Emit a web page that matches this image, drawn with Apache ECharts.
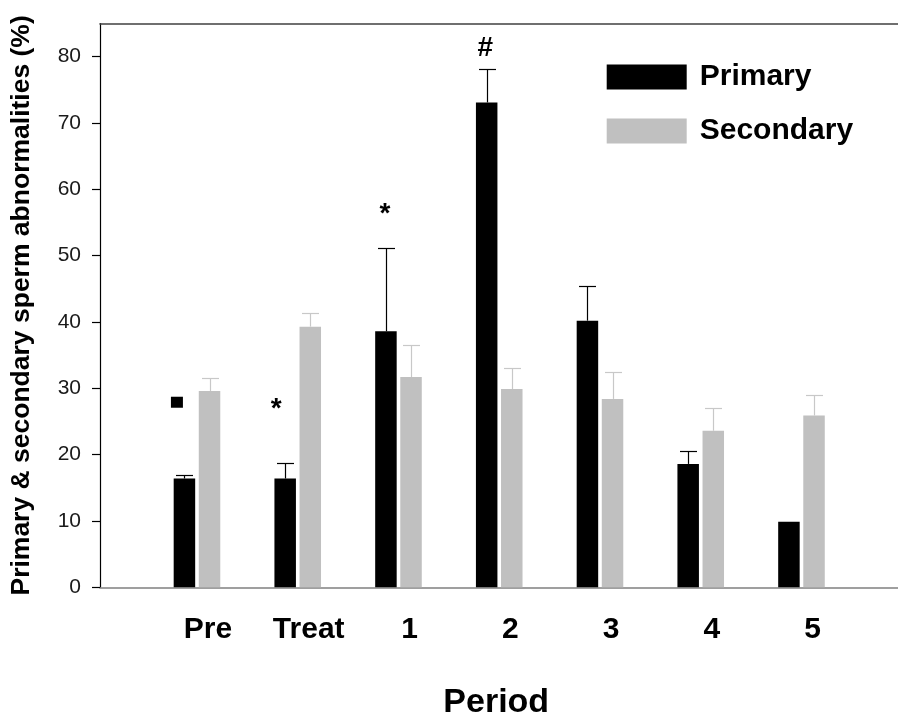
<!DOCTYPE html>
<html>
<head>
<meta charset="utf-8">
<script src="https://cdn.jsdelivr.net/npm/echarts@6/dist/echarts.min.js"></script>
<style>
html,body{margin:0;padding:0;background:#fff;}
#chart{width:898px;height:713px;}
</style>
</head>
<body>
<div id="chart"></div>
<script>
// ---- data ----
const categories = ['Pre', 'Treat', '1', '2', '3', '4', '5'];
const primary = [16.4, 16.4, 38.6, 73.1, 40.2, 18.6, 9.9];
const primaryErr = [0.5, 2.4, 12.5, 5.1, 5.3, 2.0, 0];
const secondary = [29.6, 39.3, 31.7, 29.9, 28.4, 23.6, 25.9];
const secondaryErr = [1.9, 2.0, 4.8, 3.1, 4.0, 3.4, 3.1];
const yTicks = [0, 10, 20, 30, 40, 50, 60, 70, 80];
const annotCats = ['Pre', 'Treat', '1', '2'];
const annotY = [27.9, 26.8, 56.2, 81.3];
const annotText = ['square', '*', '*', '#'];

// ---- layout constants ----
const FONT = 'Liberation Sans, Arial, sans-serif';
const BAR_W = 21.5;
const BAR_GAP = 3.6;
const PRIMARY_SHIFT = -(BAR_W + BAR_GAP) / 2;
const SECONDARY_SHIFT = (BAR_W + BAR_GAP) / 2;
const annotDx = [-7.5, -9, -1, -1.5];
const Y_MAX = 85;

const chart = echarts.init(document.getElementById('chart'), null, {renderer: 'canvas'});

function errRender(shift, color) {
  return function (params, api) {
    const idx = api.value(0), v = api.value(1), e = api.value(2);
    if (!e) return null;
    const base = api.coord([idx, v]);
    const top = api.coord([idx, v + e]);
    const x = Math.round(base[0] + shift) + 0.5;
    const ty = Math.round(top[1]) + 0.5;
    return {
      type: 'group',
      children: [
        {type: 'line', shape: {x1: x, y1: base[1], x2: x, y2: ty}, style: {stroke: color, lineWidth: 1.2}},
        {type: 'line', shape: {x1: x - 8.5, y1: ty, x2: x + 8.5, y2: ty}, style: {stroke: color, lineWidth: 1.2}}
      ]
    };
  };
}

const annotData = annotCats.map((c, i) => [categories.indexOf(c), annotY[i], i]);

const option = {
  backgroundColor: '#fff',
  animation: false,
  grid: [
    {left: 100, right: 0, top: 23.5, bottom: 125.7, outerBoundsMode: 'none', containLabel: false},
    {left: 146.6, width: 705.25, top: 23.5, bottom: 125.7, outerBoundsMode: 'none', containLabel: false}
  ],
  legend: {
    data: ['Primary', 'Secondary'],
    orient: 'vertical',
    left: 606.7,
    top: 62,
    padding: 0,
    itemWidth: 80,
    itemHeight: 25,
    itemGap: 24,
    icon: 'rect',
    textStyle: {fontFamily: FONT, fontSize: 30, fontWeight: 'bold', color: '#000', lineHeight: 30, padding: [0, 0, 0, 8]}
  },
  xAxis: [
    {
      gridIndex: 0, type: 'category', data: [''], position: 'bottom',
      axisLine: {show: true, lineStyle: {color: '#808080', width: 1.5}},
      axisTick: {show: false}, axisLabel: {show: false}, splitLine: {show: false},
      offset: 2.7
    },
    {
      gridIndex: 0, type: 'value', position: 'top', min: 0, max: 1,
      axisLine: {show: true, lineStyle: {color: '#404040', width: 1.5}},
      axisTick: {show: false}, axisLabel: {show: false}, splitLine: {show: false}
    },
    {
      gridIndex: 1, type: 'category', data: categories,
      axisLine: {show: false}, axisTick: {show: false}, splitLine: {show: false},
      axisLabel: {
        fontFamily: FONT, fontSize: 30, fontWeight: 'bold', color: '#000',
        margin: 27, padding: [0, 0, 0, 22]
      },
      name: 'Period', nameLocation: 'middle', nameGap: 98,
      nameTextStyle: {fontFamily: FONT, fontSize: 34, fontWeight: 'bold', color: '#000', padding: [0, 0, 0, -6]}
    }
  ],
  yAxis: [
    {
      gridIndex: 0, type: 'value', min: 0, max: Y_MAX, interval: 10,
      axisLine: {show: true, lineStyle: {color: '#000', width: 1.2}},
      axisTick: {show: true, length: 8, inside: false, customValues: yTicks, lineStyle: {color: '#000', width: 1.2}},
      axisLabel: {customValues: yTicks, fontFamily: FONT, fontSize: 21, color: '#1a1a1a', margin: 19},
      splitLine: {show: false},
      name: 'Primary & secondary sperm abnormalities (%)',
      nameLocation: 'middle', nameGap: 65, nameRotate: 90,
      nameTextStyle: {fontFamily: FONT, fontSize: 26.5, fontWeight: 'bold', color: '#000'}
    },
    {
      gridIndex: 1, type: 'value', min: 0, max: Y_MAX, interval: 10, show: false,
      splitLine: {show: false}
    }
  ],
  series: [
    {
      name: 'Primary', type: 'bar', xAxisIndex: 2, yAxisIndex: 1,
      data: primary, barWidth: BAR_W, barGap: (BAR_GAP / BAR_W * 100).toFixed(1) + '%',
      itemStyle: {color: '#000'}
    },
    {
      name: 'Secondary', type: 'bar', xAxisIndex: 2, yAxisIndex: 1,
      data: secondary, barWidth: BAR_W,
      itemStyle: {color: '#c0c0c0'}
    },
    {
      name: 'errPrimary', type: 'custom', xAxisIndex: 2, yAxisIndex: 1,
      renderItem: errRender(PRIMARY_SHIFT, '#000'),
      data: primary.map((v, i) => [i, v, primaryErr[i]]), z: 5
    },
    {
      name: 'errSecondary', type: 'custom', xAxisIndex: 2, yAxisIndex: 1,
      renderItem: errRender(SECONDARY_SHIFT, '#c8c8c8'),
      data: secondary.map((v, i) => [i, v, secondaryErr[i]]), z: 5
    },
    {
      name: 'annot', type: 'custom', xAxisIndex: 2, yAxisIndex: 1,
      data: annotData, z: 6,
      renderItem: function (params, api) {
        const idx = api.value(0), y = api.value(1), k = api.value(2);
        const p = api.coord([idx, y]);
        const x = p[0] + PRIMARY_SHIFT + annotDx[k];
        const t = annotText[k];
        if (t === 'square') {
          return {type: 'rect', shape: {x: x - 6, y: p[1] - 5.5, width: 12, height: 11}, style: {fill: '#000'}};
        }
        return {
          type: 'text', x: x, y: p[1],
          style: {text: t, fontFamily: FONT, fontSize: 28, fontWeight: 'bold', fill: '#000', align: 'center', verticalAlign: 'middle'}
        };
      }
    }
  ]
};
chart.setOption(option);
</script>
</body>
</html>
